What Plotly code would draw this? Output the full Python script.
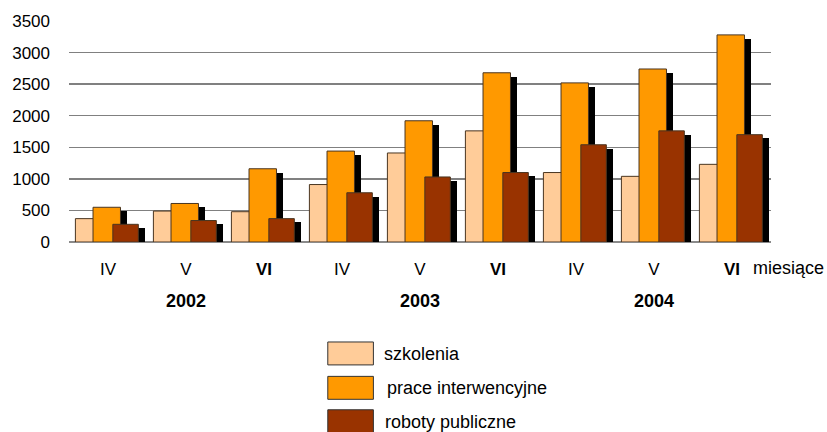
import plotly.graph_objects as go

# ---- data ----
months = ["IV", "V", "VI", "IV", "V", "VI", "IV", "V", "VI"]
years = ["2002", "2003", "2004"]
series_names = ["szkolenia", "prace interwencyjne", "roboty publiczne"]
szkolenia = [370, 490, 480, 910, 1410, 1760, 1100, 1040, 1230]
prace_interwencyjne = [550, 610, 1160, 1440, 1920, 2680, 2520, 2740, 3280]
roboty_publiczne = [280, 340, 370, 780, 1030, 1100, 1540, 1760, 1700]
series_values = [szkolenia, prace_interwencyjne, roboty_publiczne]

# ---- styles ----
colors = ["#FFCC99", "#FF9900", "#993300"]
offsets = [-0.418, -0.192, 0.062]
widths = [0.34, 0.352, 0.327]
shadow_dx = 0.083
shadow_dy = 60
FONT = "Liberation Sans, Arial, sans-serif"

W, H = 827, 432
PLOT_L, PLOT_R, PLOT_T, PLOT_B = 63, 771, 20, 241.7
ML, MR = PLOT_L, W - PLOT_R
MT, MB = PLOT_T, H - PLOT_B
PW, PH = PLOT_R - PLOT_L, PLOT_B - PLOT_T


def px_x(p):
    return (p - PLOT_L) / PW


def px_y(p):
    return (PLOT_B - p) / PH


x = list(range(len(months)))
tick_text = [f"<b>{m}</b>" if m == "VI" else m for m in months]

fig = go.Figure()
for name, vals, col, off, w in zip(series_names, series_values, colors, offsets, widths):
    fig.add_trace(go.Bar(
        x=x, y=[v - shadow_dy for v in vals], offset=off + shadow_dx, width=w,
        marker=dict(color="#000000", line=dict(width=0)),
        showlegend=False, hoverinfo="skip"))
    fig.add_trace(go.Bar(
        x=x, y=vals, offset=off, width=w, name=name,
        marker=dict(color=col, line=dict(color="#4a3520", width=1)),
        showlegend=False))

annotations = []
for i, yr in enumerate(years):
    annotations.append(dict(
        x=3 * i + 1, xref="x", y=px_y(300.5), yref="paper", text=f"<b>{yr}</b>",
        showarrow=False, xanchor="center", yanchor="middle",
        font=dict(size=18, color="#000", family=FONT)))
annotations.append(dict(
    x=px_x(751), xref="paper", y=px_y(268), yref="paper", text="miesiące",
    showarrow=False, xanchor="left", yanchor="middle",
    font=dict(size=18, color="#000", family=FONT)))

shapes = []
legend_rows = [342, 376.5, 410]
text_x = [379, 382, 379.5]
for name, col, top, tx in zip(series_names, colors, legend_rows, text_x):
    shapes.append(dict(
        type="rect", xref="paper", yref="paper",
        x0=px_x(324), x1=px_x(370), y0=px_y(top), y1=px_y(top + 23),
        fillcolor=col, line=dict(color="#333333", width=1)))
    annotations.append(dict(
        x=px_x(tx), xref="paper", y=px_y(top + 12), yref="paper", text=name,
        showarrow=False, xanchor="left", yanchor="middle",
        font=dict(size=18, color="#000", family=FONT)))

fig.update_layout(
    width=W, height=H,
    margin=dict(l=ML, r=MR, t=MT, b=MB, pad=0),
    paper_bgcolor="white", plot_bgcolor="white",
    barmode="overlay", bargap=0,
    font=dict(family=FONT, size=17, color="#000"),
    showlegend=False,
    xaxis=dict(range=[-0.5, 8.5], tickvals=x, ticktext=tick_text,
               showgrid=False, zeroline=False, showline=False, ticks="",
               ticklabelstandoff=15, tickfont=dict(size=17, color="#000"),
               fixedrange=True),
    yaxis=dict(range=[0, 3500], dtick=500, tick0=0,
               showgrid=True, gridcolor="#808080", gridwidth=1.5,
               zeroline=True, zerolinecolor="#8a8a8a", zerolinewidth=2.5,
               showline=False, ticks="", ticklabelstandoff=18,
               tickfont=dict(size=17, color="#000"), fixedrange=True),
    annotations=annotations,
    shapes=shapes,
)

fig.write_html(
    "out.html",
    config={"displayModeBar": False, "staticPlot": True},
    post_script="document.body.style.margin='0';document.body.style.overflow='hidden';",
)
